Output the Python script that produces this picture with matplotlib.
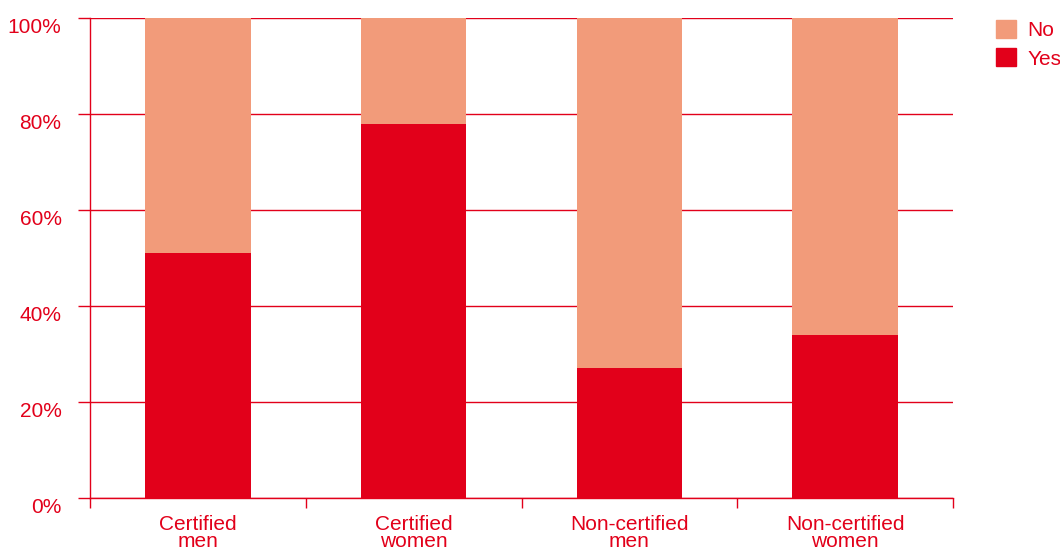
import matplotlib.pyplot as plt
import matplotlib.patches as mpatches
import numpy as np

plt.rcParams['font.family'] = ['Liberation Sans', 'DejaVu Sans']

# data (share of respondents, %)
categories = ['Certified\nmen', 'Certified\nwomen', 'Non-certified\nmen', 'Non-certified\nwomen']
yes_vals = [51, 78, 27, 34]
no_vals = [100 - v for v in yes_vals]

red = '#e2001a'
peach = '#f29b7a'

fig = plt.figure(figsize=(10.6, 5.5), dpi=100)
ax = fig.add_axes([90/1060, 1 - 498/550, (953 - 90)/1060, (498 - 18)/550])

x = np.arange(len(categories))
ax.bar(x, yes_vals, width=0.49, color=red, zorder=3)
ax.bar(x, no_vals, width=0.49, bottom=yes_vals, color=peach, zorder=3)

ax.set_xlim(-0.5, len(categories) - 0.5)
ax.set_ylim(0, 100)

# horizontal gridlines in red, labels hang just below each line
ax.set_yticks(np.arange(0, 101, 20))
ax.set_yticklabels([f'{v}%' for v in range(0, 101, 20)], va='top')
ax.grid(axis='y', color=red, linewidth=1, zorder=0)
ax.tick_params(axis='y', length=8.5, width=1, color=red, labelcolor=red, labelsize=15, pad=12)

# category labels, ticks at group boundaries
ax.set_xticks(x)
ax.set_xticklabels(categories, linespacing=0.9)
ax.set_xticks(np.arange(-0.5, len(categories)), minor=True)
ax.tick_params(axis='x', which='major', length=0, labelcolor=red, labelsize=15, pad=12)
ax.tick_params(axis='x', which='minor', length=7, width=1, color=red)

for s in ['top', 'right']:
    ax.spines[s].set_visible(False)
for s in ['left', 'bottom']:
    ax.spines[s].set_color(red)
    ax.spines[s].set_linewidth(1)
    ax.spines[s].set_zorder(4)

handles = [mpatches.Patch(color=peach, label='No'), mpatches.Patch(color=red, label='Yes')]
leg = fig.legend(handles=handles, loc='upper left', bbox_to_anchor=(996/1060, 1 - 20/550),
                 frameon=False, fontsize=15, handlelength=0.95, handleheight=0.95,
                 handletextpad=0.55, labelspacing=0.4, borderpad=0, borderaxespad=0)
for t in leg.get_texts():
    t.set_color(red)

fig.savefig('out.png', dpi=100)
